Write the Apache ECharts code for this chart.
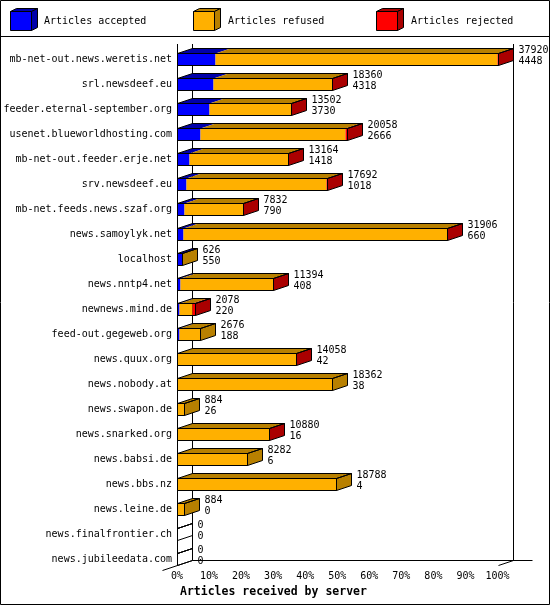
<!DOCTYPE html>
<html>
<head>
<meta charset="utf-8">
<style>html,body{margin:0;padding:0;background:#fff;}#c{width:550px;height:605px;}</style>
<script src="https://cdn.jsdelivr.net/npm/echarts@6/dist/echarts.min.js"></script>
</head>
<body>
<div id="c"></div>
<script>
const categories = ["mb-net-out.news.weretis.net","srl.newsdeef.eu","feeder.eternal-september.org","usenet.blueworldhosting.com","mb-net-out.feeder.erje.net","srv.newsdeef.eu","mb-net.feeds.news.szaf.org","news.samoylyk.net","localhost","news.nntp4.net","newnews.mind.de","feed-out.gegeweb.org","news.quux.org","news.nobody.at","news.swapon.de","news.snarked.org","news.babsi.de","news.bbs.nz","news.leine.de","news.finalfrontier.ch","news.jubileedata.com"];
const received = [37920,18360,13502,20058,13164,17692,7832,31906,626,11394,2078,2676,14058,18362,884,10880,8282,18788,884,0,0];
const accepted = [4448,4318,3730,2666,1418,1018,790,660,550,408,220,188,42,38,26,16,6,4,0,0,0];
const rejected = [40,20,20,200,30,10,20,20,0,60,250,0,5,0,0,5,0,0,0,0,0];
const seriesNames = ["Articles accepted","Articles refused","Articles rejected"];
const xTicks = [0,10,20,30,40,50,60,70,80,90,100];
const axisTitle = "Articles received by server";

const frontColors = ["#0000ff","#ffb000","#ff0000"];
const darkColors = ["#0000aa","#b88000","#aa0000"];
const FONT = '10px "DejaVu Sans Mono", "Liberation Mono", monospace';
const DX = 15, DY = -5, FH = 12;

const maxTotal = Math.max(...received);
const pct = v => v / maxTotal * 100;
const barData = categories.map((c, i) => {
  const ref = received[i] - accepted[i] - rejected[i];
  return [i, pct(accepted[i]), pct(ref), pct(rejected[i]), received[i], accepted[i]];
});

function renderBar(params, api) {
  const i = api.value(0);
  const vals = [api.value(1), api.value(2), api.value(3)];
  const yc = api.coord([0, i])[1];
  const top = Math.round(yc - FH / 2) + 0.5;
  const bot = top + FH;
  const px = v => Math.round(api.coord([v, i])[0]) + 0.5;
  const xs = [px(0)];
  let cum = 0;
  vals.forEach(v => { cum += v; xs.push(px(cum)); });
  const children = [];
  let last = -1;
  for (let k = 0; k < 3; k++) {
    if (vals[k] > 0) last = k;
    const a = xs[k], b = xs[k + 1];
    if (b > a) {
      children.push({type: 'rect', shape: {x: a, y: top, width: b - a, height: FH}, style: {fill: frontColors[k]}});
      children.push({type: 'polygon', shape: {points: [[a, top], [b, top], [b + DX, top + DY], [a + DX, top + DY]]}, style: {fill: darkColors[k]}});
    }
  }
  const xe = xs[3];
  children.push({type: 'polygon', shape: {points: [[xe, top], [xe + DX, top + DY], [xe + DX, bot + DY], [xe, bot]]},
    style: {fill: last >= 0 ? darkColors[last] : 'none', stroke: '#000', lineWidth: 1}});
  children.push({type: 'rect', shape: {x: xs[0], y: top, width: xe - xs[0], height: FH}, style: {fill: 'none', stroke: '#000', lineWidth: 1}});
  children.push({type: 'polygon', shape: {points: [[xs[0], top], [xe, top], [xe + DX, top + DY], [xs[0] + DX, top + DY]]}, style: {fill: 'none', stroke: '#000', lineWidth: 1}});
  children.push({type: 'text', style: {text: String(api.value(4)), x: xe + DX + 5, y: top - 3, verticalAlign: 'middle', align: 'left', font: FONT, fill: '#000'}});
  children.push({type: 'text', style: {text: String(api.value(5)), x: xe + DX + 5, y: top + 8, verticalAlign: 'middle', align: 'left', font: FONT, fill: '#000'}});
  return {type: 'group', children: children};
}

function renderFrame(params, api) {
  const n = categories.length;
  const x0 = Math.round(api.coord([0, 0])[0]) + 0.5;
  const x1 = Math.round(api.coord([100, 0])[0]) + 0.5;
  const ycLast = api.coord([0, n - 1])[1];
  const floorF = Math.round(ycLast - FH / 2) + 0.5 + FH;
  const floorB = floorF + DY;
  const topY = 44;
  const ln = (a, b, c, d) => ({type: 'line', shape: {x1: a, y1: b, x2: c, y2: d}, style: {stroke: '#000', lineWidth: 1}});
  return {type: 'group', children: [
    ln(x0, topY, x0, floorF),
    ln(x0 + DX, topY, x0 + DX, floorB),
    ln(x1 + DX, topY, x1 + DX, floorB),
    ln(x0 + DX, floorB, x1 + DX + 19, floorB),
    ln(x0 - DX, floorF - DY, x0 + DX, floorB),
    ln(x1, floorF, x1 + DX, floorB)
  ]};
}

const legendX = [10, 193, 376];
const legendTextX = [44, 228, 411];
const graphics = [
  {type: 'rect', shape: {x: 0.5, y: 0.5, width: 549, height: 604}, style: {fill: 'none', stroke: '#000', lineWidth: 1}, z: 10},
  {type: 'line', shape: {x1: 0, y1: 36.5, x2: 550, y2: 36.5}, style: {stroke: '#000', lineWidth: 1}},
  {type: 'text', style: {text: axisTitle, x: 180, y: 592, verticalAlign: 'middle', font: 'bold 11.5px "DejaVu Sans Mono", monospace', fill: '#000'}}
];
seriesNames.forEach((name, k) => {
  const x = legendX[k] + 0.5, y = 11.5, w = 21, h = 19, dx = 6, dy = -3;
  graphics.push({type: 'polygon', shape: {points: [[x, y], [x + w, y], [x + w + dx, y + dy], [x + dx, y + dy]]}, style: {fill: darkColors[k], stroke: '#000', lineWidth: 1}});
  graphics.push({type: 'polygon', shape: {points: [[x + w, y], [x + w + dx, y + dy], [x + w + dx, y + h + dy], [x + w, y + h]]}, style: {fill: darkColors[k], stroke: '#000', lineWidth: 1}});
  graphics.push({type: 'rect', shape: {x: x, y: y, width: w, height: h}, style: {fill: frontColors[k], stroke: '#000', lineWidth: 1}});
  graphics.push({type: 'text', style: {text: name, x: legendTextX[k], y: 21, verticalAlign: 'middle', font: FONT, fill: '#000'}});
});

const chart = echarts.init(document.getElementById('c'), null, {renderer: 'canvas'});
chart.setOption({
  animation: false,
  backgroundColor: '#fff',
  grid: {left: 177, right: 52.5, top: 46.5, bottom: 33.5},
  xAxis: {
    type: 'value', min: 0, max: 100, interval: 10,
    axisLine: {show: false}, axisTick: {show: false}, splitLine: {show: false},
    axisLabel: {margin: 0, formatter: v => xTicks.includes(v) ? v + '%' : '', color: '#000', font: FONT, fontFamily: '"DejaVu Sans Mono", monospace', fontSize: 10}
  },
  yAxis: {
    type: 'category', data: categories, inverse: true,
    axisLine: {show: false}, axisTick: {show: false}, splitLine: {show: false},
    axisLabel: {margin: 5, color: '#000', fontFamily: '"DejaVu Sans Mono", monospace', fontSize: 10}
  },
  graphic: graphics,
  series: [
    {type: 'custom', name: 'frame', renderItem: renderFrame, data: [[0]], encode: {x: 0}, clip: false, silent: true, z: 1},
    {type: 'custom', name: 'bars', renderItem: renderBar, data: barData, encode: {y: 0, x: [1, 2, 3]}, clip: false, z: 2}
  ]
});
</script>
</body>
</html>
